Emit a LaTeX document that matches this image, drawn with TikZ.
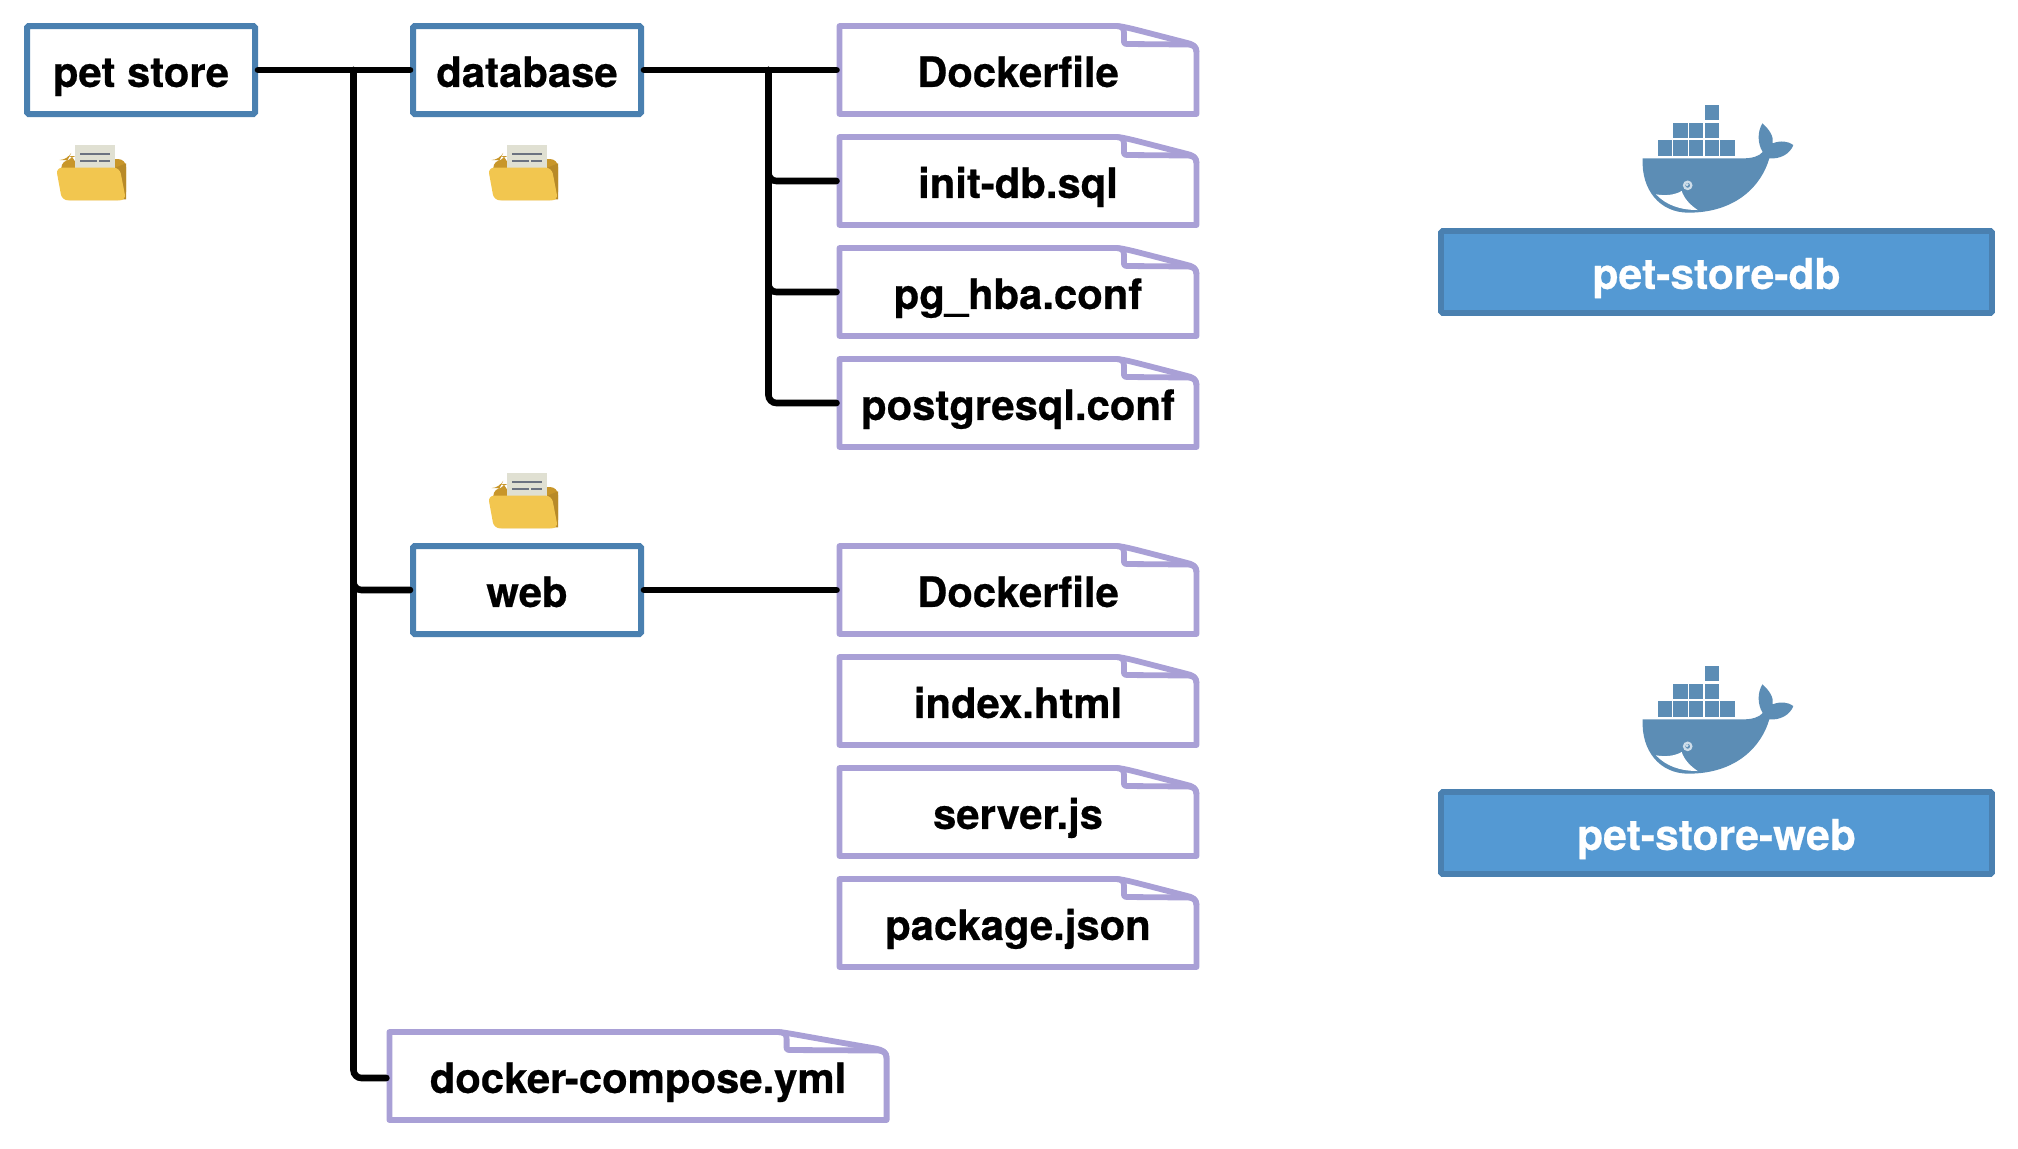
\documentclass[tikz,border=0pt]{standalone}
\usepackage{fontspec}
\setmainfont[BoldFeatures={FakeBold=0.5}]{TeX Gyre Heros}
\definecolor{boxblue}{HTML}{4A80B0}
\definecolor{fillblue}{HTML}{5499D3}
\definecolor{filepurple}{HTML}{A9A0D6}
\definecolor{whaleblue}{HTML}{5C8DB5}
\definecolor{foldery}{HTML}{F2C64F}
\definecolor{folderd}{HTML}{C8962A}
\definecolor{foldersh}{HTML}{B88A28}
\definecolor{paper}{HTML}{E0E0D2}
\definecolor{papl}{HTML}{6B7280}
\tikzset{
  labeltext/.style={font=\fontsize{20.9pt}{24pt}\selectfont\bfseries,text height=19.95pt,text depth=3.05pt,inner sep=0pt,align=center},
  dirbox/.style={labeltext,draw=boxblue,fill=white,line width=3pt,rounded corners=.8pt,minimum width=114pt,minimum height=44pt},
  filebox/.style={labeltext,minimum height=44pt,outer sep=1.5pt},
  fileline/.style={draw=filepurple,fill=white,line width=2.9pt,line join=round},
  imagebox/.style={labeltext,font=\fontsize{21.3pt}{24pt}\selectfont\bfseries,text=white,draw=boxblue,fill=fillblue,line width=2.9pt,rounded corners=.8pt,minimum width=275.5pt,minimum height=41pt},
  conn/.style={line width=3.3pt,line cap=round,rounded corners=4pt},
}
% name, cx, cy, half width, fold start offset, fold inner offset, text
\newcommand{\filenode}[7]{%
  \begin{scope}[shift={(#2,#3)}]
    \path[fileline] (-#4,-44) -- (#4-#5,-44) .. controls (#4-#5+8,-44) and (#4-#5+14,-42) .. (#4-11,-27.5)
      .. controls (#4-4,-26) and (#4,-24) .. (#4,-18) -- (#4,44) -- (-#4,44) -- cycle;
    \path[fileline,fill=none] (#4-#5,-44) .. controls (#4-#6-2,-44) and (#4-#6,-42) .. (#4-#6,-37) -- (#4-#6,-28)
      .. controls (#4-#6,-26.5) and (#4-#6+1,-26) .. (#4-#6+3,-26) -- (#4-8,-25.5) .. controls (#4-3,-25) and (#4,-23) .. (#4,-18);
  \end{scope}
  \node[filebox,minimum width=#4pt] (#1) at (#2,#3) {#7};
}
\newcommand{\foldericon}[2]{%
  \begin{scope}[shift={(#1,#2)},scale=1/3]
    \fill[folderd,rounded corners=4pt] (43,210) -- (43,90) -- (62,90) -- (68,78) -- (85,78) -- (85,87) -- (237,87) -- (237,210) -- cycle;
    \fill[foldersh] (205,113) -- (237,100) -- (237,208) -- (222,208) -- cycle;
    \fill[paper] (85,44) rectangle (203,118);
    \fill[papl] (100,68.5) rectangle (188,75.5);
    \fill[papl] (100,88.5) rectangle (150,95.5);
    \fill[papl] (157,88.5) rectangle (188,95.5);
    \fill[foldery,rounded corners=3pt] (27,113) -- (218,113) -- (237,211) -- (45,211) -- cycle;
  \end{scope}
}
\newcommand{\whaleicon}[2]{%
  \begin{scope}[shift={(#1,#2)},scale=1/3]
    \foreach \xx in {83,130,177,224,271} \fill[whaleblue] (\xx,151) rectangle +(43,46);
    \foreach \xx in {130,177,224} \fill[whaleblue] (\xx,98) rectangle +(43,46);
    \fill[whaleblue] (224,45) rectangle +(43,46);
    \fill[whaleblue] (38,205) -- (340,205) .. controls (368,205) and (388,198) .. (398,186)
      .. controls (382,160) and (382,125) .. (397,100)
      .. controls (418,118) and (432,140) .. (428,160)
      .. controls (450,151) and (475,153) .. (490,165)
      .. controls (480,192) and (450,208) .. (418,205)
      .. controls (395,285) and (320,368) .. (175,368)
      .. controls (90,368) and (33,300) .. (38,205) -- cycle;
    \fill[white] (78,313) .. controls (105,318) and (135,315) .. (155,303)
      .. controls (162,325) and (180,345) .. (203,360)
      .. controls (150,360) and (108,345) .. (78,313) -- cycle;
    \draw[white!70!whaleblue,line width=1.1pt] (173,286) circle (11);
    \fill[white!70!whaleblue] (171,284) circle (5);
  \end{scope}
}
\begin{document}
\begin{tikzpicture}[x=.5pt,y=-.5pt]
\useasboundingbox (0,0) rectangle (2018,1148);
\node[dirbox] (petstore) at (141,70) {pet store};
\node[dirbox] (database) at (527,70) {database};
\node[dirbox] (web) at (527,590) {web};
\foldericon{47}{130}
\foldericon{479}{130}
\foldericon{479}{458}
\filenode{dbdocker}{1018}{70}{178.5}{81.5}{72.5}{Dockerfile}
\filenode{initdb}{1018}{181}{178.5}{81.5}{72.5}{init-db.sql}
\filenode{pghba}{1018}{292}{178.5}{81.5}{72.5}{pg\_hba.conf}
\filenode{postgres}{1018}{403}{178.5}{81.5}{72.5}{postgresql.conf}
\filenode{webdocker}{1018}{590}{178.5}{81.5}{72.5}{Dockerfile}
\filenode{index}{1018}{701}{178.5}{81.5}{72.5}{index.html}
\filenode{server}{1018}{812}{178.5}{81.5}{72.5}{server.js}
\filenode{package}{1018}{923}{178.5}{81.5}{72.5}{package.json}
\filenode{compose}{638}{1076}{248.6}{110}{100}{docker-compose.yml}
\coordinate (trunk) at (353.5,70);
\coordinate (dbtrunk) at (768.5,70);
\draw[conn] (petstore.east) -- (database.west);
\draw[conn] (trunk) |- (web.west);
\draw[conn] (trunk) |- ([yshift=-1pt]compose.west);
\draw[conn] (database.east) -- (dbdocker.west);
\draw[conn] (dbtrunk) |- (initdb.west);
\draw[conn] (dbtrunk) |- (pghba.west);
\draw[conn] (dbtrunk) |- (postgres.west);
\draw[conn] (web.east) -- (webdocker.west);
\whaleicon{1630}{90}
\whaleicon{1630}{651}
\node[imagebox] (dbimage) at (1716.5,272) {pet-store-db};
\node[imagebox] (webimage) at (1716.5,833) {pet-store-web};
\end{tikzpicture}
\end{document}
